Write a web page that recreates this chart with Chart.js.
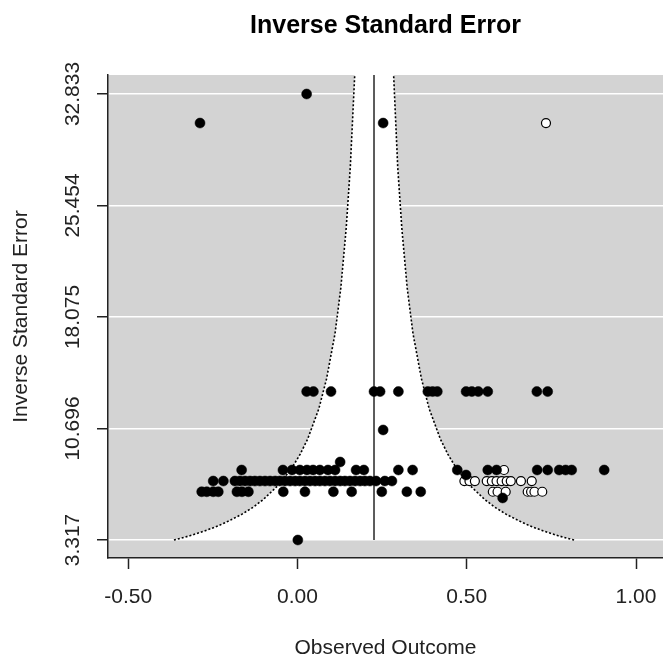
<!DOCTYPE html>
<html>
<head>
<meta charset="utf-8">
<script src="https://cdn.jsdelivr.net/npm/chart.js@4.4.1/dist/chart.umd.min.js"></script>
<style>
  body { margin: 0; background: #ffffff; }
  #wrap { width: 663px; height: 661px; }
</style>
</head>
<body>
<div id="wrap"><canvas id="chart_funnel" width="663" height="661"></canvas></div>
<script>
// axis ticks
const xTicks = [-0.5, 0, 0.5, 1.0];
const yTicks = [3.317, 10.696, 18.075, 25.454, 32.833];

// pooled estimate (vertical line)
const estimate = 0.226;

// funnel edges (inverse SE -> lower / upper bound)
const funnelY  = [3.317, 3.45, 3.6, 3.8, 4, 4.25, 4.5, 5, 5.5, 6, 7, 8, 9, 10, 12, 14, 17, 20, 24, 28, 34.09];
const funnelLo = [-0.365, -0.342, -0.318, -0.290, -0.264, -0.235, -0.210, -0.166, -0.130, -0.101, -0.054, -0.019, 0.008, 0.030, 0.063, 0.086, 0.111, 0.128, 0.144, 0.156, 0.169];
const funnelHi = [0.817, 0.794, 0.770, 0.742, 0.716, 0.687, 0.662, 0.618, 0.582, 0.553, 0.506, 0.471, 0.444, 0.422, 0.389, 0.366, 0.341, 0.324, 0.308, 0.296, 0.284];

// observed studies (filled), grouped by row of inverse SE
const studyX = [
    0.027,
    -0.288, 0.253,
    0.027, 0.047, 0.099, 0.226, 0.244, 0.298, 0.385, 0.399, 0.413, 0.498, 0.515, 0.534, 0.562, 0.707, 0.739,
    0.253,
    0.126,
    -0.165, -0.043, -0.016, 0.007, 0.028, 0.046, 0.066, 0.090, 0.111, 0.173, 0.196, 0.298, 0.340, 0.472, 0.562, 0.588, 0.708, 0.739, 0.773, 0.792, 0.810, 0.906,
    0.498,
    -0.249, -0.219, -0.185, -0.170, -0.155, -0.140, -0.126, -0.111, -0.096, -0.081, -0.066, -0.052, -0.037, -0.022, -0.007, 0.007, 0.022, 0.037, 0.052, 0.066, 0.081, 0.096, 0.111, 0.126, 0.140, 0.155, 0.170, 0.185, 0.199, 0.214, 0.232, 0.258, 0.279,
    -0.283, -0.268, -0.249, -0.234, -0.179, -0.164, -0.145, -0.042, 0.022, 0.106, 0.160, 0.249, 0.323, 0.364,
    0.606,
    0.001
];
const studyY = [
    32.833,
    30.91, 30.91,
    13.14, 13.14, 13.14, 13.14, 13.14, 13.14, 13.14, 13.14, 13.14, 13.14, 13.14, 13.14, 13.14, 13.14, 13.14,
    10.60,
    8.48,
    7.95, 7.95, 7.95, 7.95, 7.95, 7.95, 7.95, 7.95, 7.95, 7.95, 7.95, 7.95, 7.95, 7.95, 7.95, 7.95, 7.95, 7.95, 7.95, 7.95, 7.95, 7.95,
    7.62,
    7.22, 7.22, 7.22, 7.22, 7.22, 7.22, 7.22, 7.22, 7.22, 7.22, 7.22, 7.22, 7.22, 7.22, 7.22, 7.22, 7.22, 7.22, 7.22, 7.22, 7.22, 7.22, 7.22, 7.22, 7.22, 7.22, 7.22, 7.22, 7.22, 7.22, 7.22, 7.22, 7.22,
    6.51, 6.51, 6.51, 6.51, 6.51, 6.51, 6.51, 6.51, 6.51, 6.51, 6.51, 6.51, 6.51, 6.51,
    6.10,
    3.317
];

// filled-in studies (open circles)
const filledX = [
    0.734,
    0.610,
    0.493, 0.508, 0.524, 0.559, 0.574, 0.588, 0.603, 0.618, 0.630, 0.660, 0.692,
    0.577, 0.591, 0.615, 0.680, 0.690, 0.700, 0.723
];
const filledY = [
    30.91,
    7.95,
    7.22, 7.22, 7.22, 7.22, 7.22, 7.22, 7.22, 7.22, 7.22, 7.22, 7.22,
    6.51, 6.51, 6.51, 6.51, 6.51, 6.51, 6.51
];

const FONT = '"Liberation Sans", Arial, Helvetica, sans-serif';

function pairs(xs, ys) {
    return xs.map((x, i) => ({x: x, y: ys[i]}));
}

// white funnel region: up the left edge, down the right edge
const funnelShape = pairs(funnelLo, funnelY).concat(pairs(funnelHi, funnelY).reverse());

// grey plotting region like R's funnel()
const greyBackground = {
    id: 'greyBackground',
    beforeDraw(chart) {
        const {ctx, chartArea} = chart;
        ctx.save();
        ctx.fillStyle = '#d3d3d3';
        ctx.fillRect(chartArea.left, chartArea.top, chartArea.right - chartArea.left, chartArea.bottom - chartArea.top);
        ctx.restore();
    }
};

const ctx = document.getElementById('chart_funnel').getContext('2d');
const funnelChart = new Chart(ctx, {
    type: 'scatter',
    data: {
        datasets: [
            {
                label: 'funnel',
                data: funnelShape,
                showLine: true,
                fill: 'shape',
                backgroundColor: '#ffffff',
                borderWidth: 0,
                pointRadius: 0,
                order: 10
            },
            {
                label: 'lower',
                data: pairs(funnelLo, funnelY),
                showLine: true,
                borderColor: '#000000',
                borderWidth: 1.6,
                borderDash: [2, 2],
                pointRadius: 0,
                order: 6
            },
            {
                label: 'upper',
                data: pairs(funnelHi, funnelY),
                showLine: true,
                borderColor: '#000000',
                borderWidth: 1.6,
                borderDash: [2, 2],
                pointRadius: 0,
                order: 6
            },
            {
                label: 'estimate',
                data: [{x: estimate, y: funnelY[0]}, {x: estimate, y: funnelY[funnelY.length - 1]}],
                showLine: true,
                borderColor: '#333333',
                borderWidth: 1.6,
                pointRadius: 0,
                order: 5
            },
            {
                label: 'filled in',
                data: pairs(filledX, filledY),
                pointRadius: 4.5,
                pointBackgroundColor: '#ffffff',
                pointBorderColor: '#000000',
                pointBorderWidth: 1.2,
                order: 2
            },
            {
                label: 'studies',
                data: pairs(studyX, studyY),
                pointRadius: 5,
                pointBackgroundColor: '#000000',
                pointBorderColor: '#000000',
                pointBorderWidth: 0.5,
                order: 1
            }
        ]
    },
    options: {
        responsive: false,
        animation: false,
        events: [],
        layout: {
            autoPadding: false,
            padding: {top: 0, right: 0, bottom: 0, left: 0}
        },
        plugins: {
            legend: {display: false},
            tooltip: {enabled: false},
            title: {
                display: true,
                text: 'Inverse Standard Error',
                fullSize: false,
                color: '#000000',
                font: {family: FONT, size: 25, weight: 'bold'},
                padding: {top: 11, bottom: 34}
            }
        },
        scales: {
            x: {
                type: 'linear',
                min: -0.5598,
                max: 1.0797,
                afterFit: scale => {
                    scale.height = 103;
                    scale.paddingLeft = 0;
                    scale.paddingRight = 0;
                },
                afterBuildTicks: scale => { scale.ticks = xTicks.map(v => ({value: v})); },
                grid: {
                    drawOnChartArea: false,
                    tickLength: 11,
                    tickColor: '#222222',
                    tickWidth: 1.5
                },
                border: {display: true, color: '#222222', width: 1.5},
                ticks: {
                    autoSkip: false,
                    maxRotation: 0,
                    padding: 16,
                    color: '#222222',
                    font: {family: FONT, size: 21},
                    callback: v => v.toFixed(2)
                },
                title: {
                    display: true,
                    text: 'Observed Outcome',
                    color: '#222222',
                    font: {family: FONT, size: 21},
                    padding: {top: 0, bottom: 0}
                }
            },
            y: {
                type: 'linear',
                min: 2.126,
                max: 34.09,
                afterFit: scale => {
                    scale.width = 108;
                    scale.paddingTop = 0;
                    scale.paddingBottom = 0;
                },
                afterBuildTicks: scale => { scale.ticks = yTicks.map(v => ({value: v})); },
                grid: {
                    color: '#ffffff',
                    lineWidth: 1.5,
                    tickLength: 11,
                    tickColor: '#222222',
                    tickWidth: 1.5
                },
                border: {display: true, color: '#222222', width: 1.5},
                ticks: {
                    autoSkip: false,
                    minRotation: 90,
                    maxRotation: 90,
                    crossAlign: 'center',
                    padding: -8,
                    color: '#222222',
                    font: {family: FONT, size: 21},
                    callback: v => v.toFixed(3)
                },
                title: {
                    display: true,
                    text: 'Inverse Standard Error',
                    color: '#222222',
                    font: {family: FONT, size: 21},
                    padding: {top: 9, bottom: 0}
                }
            }
        }
    },
    plugins: [greyBackground]
});
</script>
</body>
</html>
